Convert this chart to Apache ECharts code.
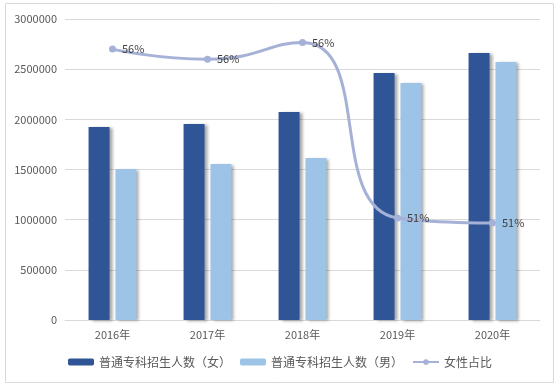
<!DOCTYPE html>
<html><head><meta charset="utf-8">
<script src="https://cdn.jsdelivr.net/npm/echarts@6/dist/echarts.min.js"></script>
<style>html,body{margin:0;padding:0;background:#fff}#c{width:560px;height:387px}</style>
</head><body><div id="c"></div>
<script>
const categories = ['2016年','2017年','2018年','2019年','2020年'];
const femaleValues = [1923000, 1953000, 2073000, 2462000, 2661000];
const maleValues = [1505000, 1555000, 1615000, 2362000, 2571000];
const femaleRatio = [0.561, 0.558, 0.563, 0.5105, 0.509];
const seriesNames = ['普通专科招生人数（女）','普通专科招生人数（男）','女性占比'];

const font = '"Noto Sans CJK SC", "Microsoft YaHei", sans-serif';
const chart = echarts.init(document.getElementById('c'));
chart.setOption({
  animation: false,
  textStyle: { fontFamily: font },
  graphic: [{ type: 'rect', shape: { x: 5.5, y: 3.5, width: 548, height: 379 }, style: { fill: 'none', stroke: '#d9d9d9', lineWidth: 1 }, z: -1 }],
  grid: { left: 65, right: 20, top: 19, bottom: 67 },
  legend: {
    bottom: 14, left: 'center', itemWidth: 26, itemHeight: 7, itemGap: 9,
    textStyle: { color: '#595959', fontSize: 12, fontFamily: font },
    data: seriesNames
  },
  xAxis: {
    type: 'category', data: categories,
    axisLine: { lineStyle: { color: '#d9d9d9' } }, axisTick: { show: false },
    axisLabel: { color: '#595959', fontSize: 11, margin: 9 }
  },
  yAxis: [{
    type: 'value', min: 0, max: 3000000, interval: 500000,
    axisLine: { show: false }, axisTick: { show: false },
    splitLine: { lineStyle: { color: '#d9d9d9' } },
    axisLabel: { color: '#595959', fontSize: 11, margin: 8, formatter: v => String(v) }
  }, {
    type: 'value', min: 0.48, max: 0.57, show: false, splitLine: { show: false }
  }],
  series: [{
    name: seriesNames[0], type: 'bar', data: femaleValues, barWidth: 21, barGap: '28%',
    itemStyle: { color: '#2f5597', shadowColor: 'rgba(0,0,0,0.35)', shadowBlur: 3, shadowOffsetX: 3, shadowOffsetY: 1 }
  }, {
    name: seriesNames[1], type: 'bar', data: maleValues, barWidth: 21,
    itemStyle: { color: '#9dc3e6', shadowColor: 'rgba(0,0,0,0.35)', shadowBlur: 3, shadowOffsetX: 3, shadowOffsetY: 1 }
  }, {
    name: seriesNames[2], type: 'line', yAxisIndex: 1, data: femaleRatio, smooth: 0.55,
    symbol: 'circle', symbolSize: 7,
    lineStyle: { color: '#a5b1d6', width: 3 }, itemStyle: { color: '#a5b1d6' },
    label: { show: true, position: 'right', distance: 6, color: '#404040', fontSize: 11,
      formatter: p => Math.round(p.value * 100) + '%' }
  }]
});
</script></body></html>
